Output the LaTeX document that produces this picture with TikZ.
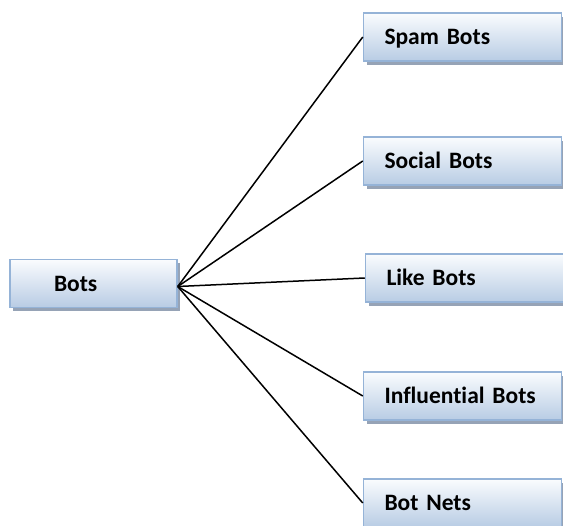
\documentclass[tikz,border=0pt]{standalone}
\usepackage{fontspec}
\setmainfont{Carlito}[Ligatures=NoCommon]
\usetikzlibrary{shadows}
\definecolor{boxedge}{RGB}{149,179,215}
\definecolor{boxtop}{RGB}{250,252,254}
\definecolor{boxbottom}{RGB}{184,204,228}
\definecolor{boxshadow}{RGB}{150,163,182}
\begin{document}
\begin{tikzpicture}[x=1pt, y=-1pt]
        % styles
        \tikzset{
            % box with soft blue shading
            botbox/.style={draw=boxedge, line width=1.5pt, top color=boxtop, bottom color=boxbottom,
                minimum height=48pt, text height=16pt, text depth=0pt, inner ysep=0pt,
                align=left, font=\bfseries\fontsize{23.5}{28}\selectfont,
                drop shadow={shadow xshift=3pt, shadow yshift=-4pt, fill=boxshadow, opacity=1}},
            rootbox/.style={botbox, minimum width=167pt, text width=123pt, inner xsep=22pt, anchor=center},
            leafbox/.style={botbox, minimum width=197pt, text width=176pt, inner xsep=11pt, anchor=center},
            % plain link
            link/.style={line width=1.5pt, black}
        }
        \useasboundingbox (0,0) rectangle (563,526);

        % root
        \node[rootbox] (bots) at (93.5,283.5) {\hspace{22pt}Bots};

        % leaves
        \node[leafbox] (spam) at (462.5,37) {\hspace{10pt}Spam Bots};
        \node[leafbox] (social) at (462.5,161) {\hspace{10pt}Social Bots};
        \node[leafbox] (like) at (464.5,278) {\hspace{10pt}Like Bots};
        \node[leafbox] (infl) at (462.5,396) {\hspace{10pt}Influential Bots};
        \node[leafbox] (nets) at (462.5,503) {\hspace{10pt}Bot Nets};

        % links
        \coordinate (hub) at ([yshift=-3pt]bots.east);
        \foreach \leaf in {spam, social, like, infl, nets}
            \draw[link] (hub) -- (\leaf.west);
    \end{tikzpicture}
\end{document}
